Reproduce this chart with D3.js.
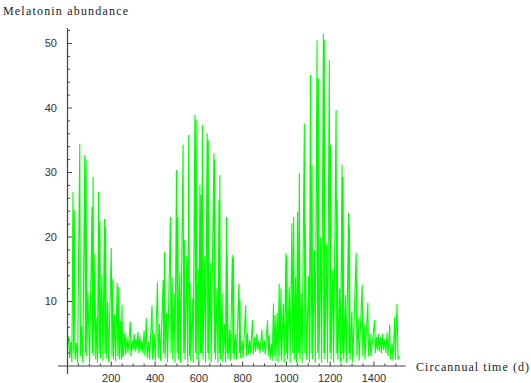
<!DOCTYPE html>
<html><head><meta charset="utf-8">
<script src="https://cdn.jsdelivr.net/npm/d3@7"></script>
<style>body{margin:0;background:#fff}svg{display:block}</style>
</head><body>
<script>
// Vertex list of the melatonin curve: [day, abundance]
const curve = [
[0,3.0],[5,4.6],[10,1.2],[15,3.8],[20,0.6],[25,27.0],[28,2.0],[31,24.2],[35,1.0],[40,3.6],[46,0.4],
[56,34.4],[59,1.5],[64,6.2],[70,0.5],[79,32.7],[82,2.0],[85,31.9],[88,1.5],[93,11.4],[101,0.5],
[112,24.7],[114,2.0],[117,29.3],[120,1.5],[125,17.4],[129,1.0],[134,7.5],[137,0.5],[142,27.0],[145,2.0],
[148,22.4],[151,1.2],[157,14.2],[162,0.8],[169,22.8],[171,2.0],[174,21.6],[177,1.2],[183,10.0],[188,0.6],
[200,18.3],[203,1.5],[207,13.5],[210,1.0],[215,8.0],[220,0.7],[227,12.9],[230,1.5],[234,12.3],[237,1.0],
[242,7.0],[246,1.0],[249,9.5],[252,1.5],[255,1.5],[262,5.2],[266,1.8],[272,4.4],[276,2.0],[283,5.0],
[287,6.9],[290,1.5],[296,4.0],[300,2.5],[305,5.0],[309,2.2],[313,4.2],[317,2.6],[322,5.3],[326,2.0],
[331,4.6],[335,2.4],[340,4.0],[344,2.0],[350,5.5],[354,1.5],[360,7.4],[364,1.2],[370,3.8],[375,1.0],
[386,9.4],[389,1.0],[396,5.0],[401,0.8],[411,13.0],[414,1.2],[420,6.5],[425,0.8],[437,13.3],[439,2.0],
[443,17.7],[446,1.2],[452,8.2],[457,0.6],[470,23.1],[473,2.0],[478,13.8],[481,1.0],[487,11.3],[491,0.5],
[498,30.4],[501,2.0],[504,23.1],[507,1.0],[513,14.5],[517,0.5],[528,34.3],[531,2.0],[534,19.5],[537,1.0],
[545,17.0],[549,0.6],[554,35.8],[557,1.5],[560,13.0],[563,0.8],[570,10.5],[574,0.5],[582,38.9],[585,2.0],
[588,38.1],[591,1.0],[597,15.0],[600,0.6],[605,28.1],[608,2.0],[611,26.5],[613,2.0],[616,37.4],[619,1.0],
[627,17.0],[631,0.5],[638,36.1],[641,2.0],[643,35.0],[646,1.0],[652,16.0],[656,0.5],[669,33.0],[671,2.0],
[673,32.0],[676,1.0],[683,12.0],[687,0.5],[692,25.7],[694,2.0],[696,29.6],[699,1.0],[706,11.3],[710,0.6],
[718,6.5],[722,0.6],[726,23.1],[729,2.0],[730,17.0],[733,1.0],[740,5.6],[744,0.8],[753,17.2],[756,2.0],
[758,16.8],[761,1.0],[768,5.0],[772,1.0],[783,12.8],[786,2.0],[788,10.2],[791,1.2],[798,4.0],[802,1.2],
[814,9.4],[817,1.5],[822,5.1],[826,1.8],[832,4.0],[836,2.0],[845,7.1],[849,1.8],[855,4.5],[859,2.2],
[865,5.0],[869,2.5],[875,4.0],[879,2.0],[888,5.6],[892,2.2],[899,4.0],[903,1.8],[914,7.1],[917,1.5],
[921,4.8],[925,1.0],[931,3.5],[935,0.8],[941,9.7],[944,1.5],[949,7.9],[952,0.8],[958,8.2],[962,0.6],
[967,12.8],[970,1.5],[975,12.0],[978,0.8],[986,9.7],[990,0.5],[998,17.5],[1000,2.0],[1002,17.0],[1005,1.0],
[1013,12.3],[1017,0.5],[1025,22.1],[1029,2.0],[1033,23.1],[1036,1.0],[1042,13.8],[1046,0.5],[1051,23.9],
[1055,2.0],[1059,29.9],[1062,1.0],[1068,11.3],[1072,0.5],[1082,37.6],[1084,2.0],[1086,22.1],[1092,1.0],
[1101,14.0],[1105,0.5],[1110,45.1],[1113,2.0],[1117,31.2],[1120,1.0],[1128,18.0],[1132,0.5],[1140,50.5],
[1143,2.0],[1146,44.6],[1149,1.0],[1157,20.0],[1161,0.5],[1169,51.5],[1171,2.0],[1173,50.5],[1176,1.0],
[1184,19.0],[1188,0.5],[1196,47.4],[1199,2.0],[1201,34.3],[1204,1.0],[1212,15.0],[1216,0.5],[1227,39.7],
[1230,2.0],[1232,25.7],[1235,1.0],[1243,12.0],[1247,0.5],[1254,31.2],[1257,2.0],[1259,29.3],[1262,1.0],
[1270,11.0],[1274,0.5],[1284,23.7],[1286,2.0],[1288,21.6],[1291,1.0],[1299,8.4],[1303,0.6],[1319,17.5],
[1322,1.5],[1328,7.5],[1332,0.8],[1346,12.6],[1349,1.5],[1355,6.5],[1359,1.0],[1372,9.8],[1375,1.5],
[1382,5.0],[1386,1.5],[1403,7.1],[1406,2.0],[1411,4.5],[1415,2.5],[1420,5.0],[1424,2.2],[1430,4.5],
[1434,2.0],[1440,5.0],[1444,2.5],[1450,4.2],[1454,2.0],[1460,5.2],[1464,1.5],[1472,6.4],[1475,1.0],
[1483,3.5],[1487,0.8],[1495,7.6],[1498,1.0],[1505,9.6],[1510,1.0],[1516,1.5]
];
const xMajorTicks = [200,400,600,800,1000,1200,1400];
const yMajorTicks = [10,20,30,40,50];
const xTitle = "Circannual time (d)";
const yTitle = "Melatonin abundance";

const W = 531, H = 383;
const svg = d3.select("body").append("svg").attr("width", W).attr("height", H);

const x = d3.scaleLinear().domain([0, 1545]).range([67.5, 405.7]);
const y = d3.scaleLinear().domain([0, 52.4]).range([366, 28]);

// curve
svg.append("path")
  .datum(curve)
  .attr("fill", "none")
  .attr("stroke", "#00ff00")
  .attr("stroke-width", 1.1)
  .attr("stroke-linejoin", "miter")
  .attr("d", d3.line().x(d => x(d[0])).y(d => y(d[1])));

const axisColor = "#444";
// axes lines
svg.append("line").attr("x1", 58).attr("x2", 405.7).attr("y1", y(0)).attr("y2", y(0))
  .attr("stroke", axisColor).attr("stroke-width", 1.2);
svg.append("line").attr("x1", x(0)).attr("x2", x(0)).attr("y1", 374).attr("y2", 28)
  .attr("stroke", axisColor).attr("stroke-width", 1.2);

// x ticks
const xMinor = d3.range(50, 1545, 50).filter(v => v % 200 !== 0);
svg.selectAll(".xmin").data(xMinor).enter().append("line")
  .attr("x1", d => x(d)).attr("x2", d => x(d)).attr("y1", y(0)).attr("y2", y(0) - 2.5)
  .attr("stroke", axisColor).attr("stroke-width", 1);
svg.selectAll(".xmaj").data(xMajorTicks).enter().append("line")
  .attr("x1", d => x(d)).attr("x2", d => x(d)).attr("y1", y(0)).attr("y2", y(0) - 4.5)
  .attr("stroke", axisColor).attr("stroke-width", 1);
svg.selectAll(".xlab").data(xMajorTicks).enter().append("text")
  .attr("x", d => x(d)).attr("y", 382).attr("text-anchor", "middle")
  .attr("font-family", "Liberation Sans, Arial, sans-serif").attr("font-size", 11)
  .attr("fill", "#333").text(d => d);

// y ticks
const yMinor = d3.range(2, 53, 2).filter(v => v % 10 !== 0);
svg.selectAll(".ymin").data(yMinor).enter().append("line")
  .attr("x1", x(0)).attr("x2", x(0) + 2.5).attr("y1", d => y(d)).attr("y2", d => y(d))
  .attr("stroke", axisColor).attr("stroke-width", 1);
svg.selectAll(".ymaj").data(yMajorTicks).enter().append("line")
  .attr("x1", x(0)).attr("x2", x(0) + 4.5).attr("y1", d => y(d)).attr("y2", d => y(d))
  .attr("stroke", axisColor).attr("stroke-width", 1);
svg.selectAll(".ylab").data(yMajorTicks).enter().append("text")
  .attr("x", 57).attr("y", d => y(d) + 4).attr("text-anchor", "end")
  .attr("font-family", "Liberation Sans, Arial, sans-serif").attr("font-size", 11)
  .attr("fill", "#333").text(d => d);

// titles
svg.append("text").attr("x", 3).attr("y", 15)
  .attr("font-family", "Liberation Serif, Times New Roman, serif").attr("font-size", 12)
  .attr("fill", "#222").attr("textLength", 125).attr("lengthAdjust", "spacing").text(yTitle);
svg.append("text").attr("x", 416).attr("y", 371)
  .attr("font-family", "Liberation Serif, Times New Roman, serif").attr("font-size", 12)
  .attr("fill", "#222").attr("textLength", 113).attr("lengthAdjust", "spacing").text(xTitle);
</script>
</body></html>
